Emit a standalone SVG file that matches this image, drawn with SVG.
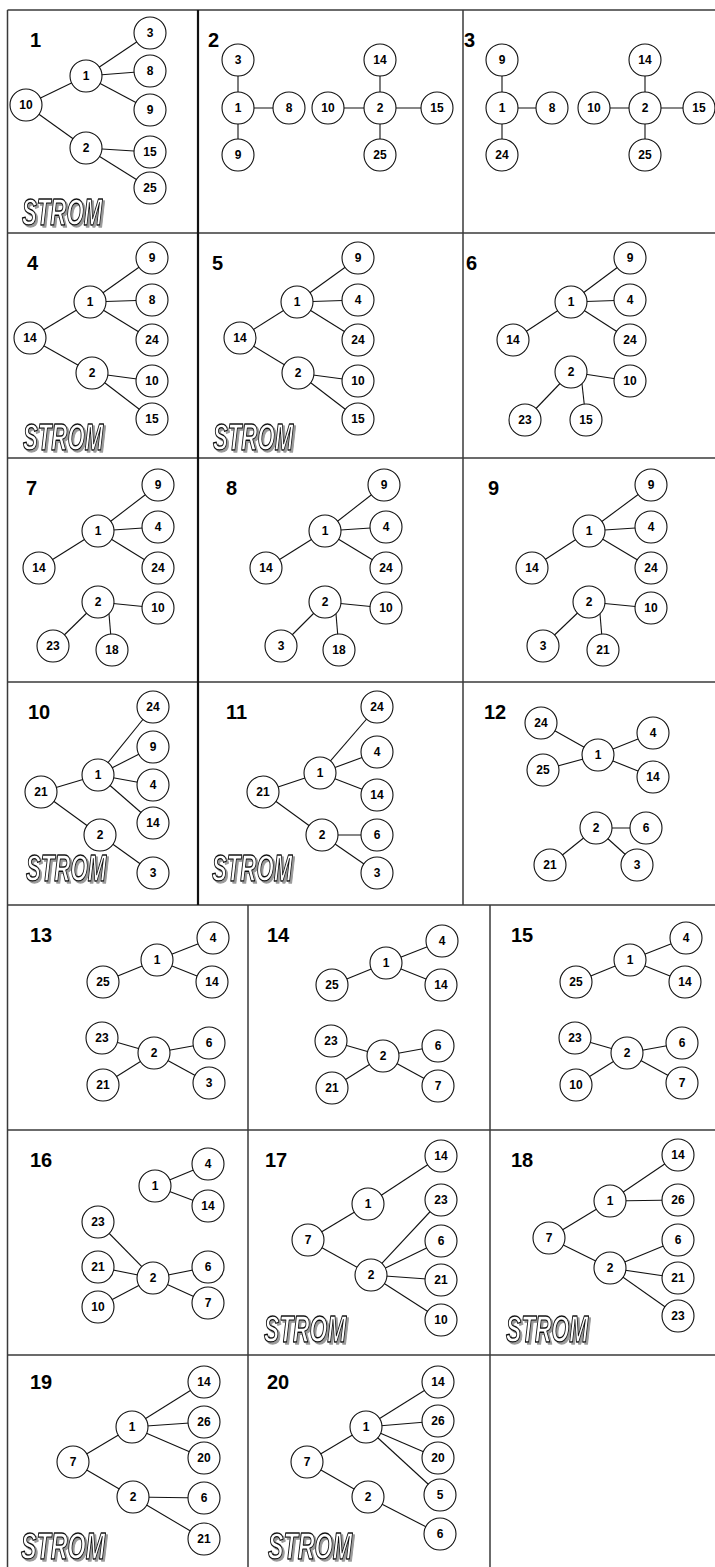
<svg xmlns="http://www.w3.org/2000/svg" width="715" height="1567" viewBox="0 0 715 1567">
<defs>
<filter id="shadow" x="-5%" y="-10%" width="115%" height="130%">
<feOffset in="SourceAlpha" dx="3" dy="2" result="o"/>
<feFlood flood-color="#9a9a9a"/>
<feComposite in2="o" operator="in" result="s"/>
<feMerge><feMergeNode in="s"/><feMergeNode in="SourceGraphic"/></feMerge>
</filter>
</defs>
<style>
.grid line{stroke:#3a3a3a;stroke-width:1.5}
.grid .thick{stroke:#111;stroke-width:2.2}
.edges line{stroke:#111;stroke-width:1.1}
.n circle{fill:#fff;stroke:#111;stroke-width:1.1}
.n text{font-family:"Liberation Sans",Arial,sans-serif;font-weight:bold;font-size:12px;text-anchor:middle;fill:#000}
.lbl{font-family:"Liberation Sans",Arial,sans-serif;font-weight:bold;font-size:20px;fill:#000}
.st text{font-family:"Liberation Sans",Arial,sans-serif;font-weight:bold;font-style:italic;font-size:37px;fill:#fff;stroke:#111;stroke-width:1.4;stroke-linejoin:round;filter:url(#shadow)}
</style>
<rect width="715" height="1567" fill="#fff"/>
<g class="grid">
<line x1="7.5" y1="10" x2="715" y2="10"/>
<line x1="7.5" y1="233" x2="715" y2="233"/>
<line x1="7.5" y1="458" x2="715" y2="458"/>
<line x1="7.5" y1="682" x2="715" y2="682"/>
<line x1="7.5" y1="905" x2="715" y2="905"/>
<line x1="7.5" y1="1130" x2="715" y2="1130"/>
<line x1="7.5" y1="1355" x2="715" y2="1355"/>
<line x1="7.5" y1="10" x2="7.5" y2="1567"/>
<line class="thick" x1="198" y1="10" x2="198" y2="905"/>
<line x1="463" y1="10" x2="463" y2="905"/>
<line x1="248" y1="905" x2="248" y2="1567"/>
<line x1="490" y1="905" x2="490" y2="1567"/>
</g>
<g id="labels">
<text class="lbl" x="30" y="47">1</text>
<text class="lbl" x="208" y="47">2</text>
<text class="lbl" x="464" y="47">3</text>
<text class="lbl" x="27" y="270">4</text>
<text class="lbl" x="212" y="270">5</text>
<text class="lbl" x="466" y="270">6</text>
<text class="lbl" x="26" y="495">7</text>
<text class="lbl" x="226" y="495">8</text>
<text class="lbl" x="488" y="495">9</text>
<text class="lbl" x="28" y="719">10</text>
<text class="lbl" x="226" y="719">11</text>
<text class="lbl" x="484" y="719">12</text>
<text class="lbl" x="30" y="942">13</text>
<text class="lbl" x="267" y="942">14</text>
<text class="lbl" x="511" y="942">15</text>
<text class="lbl" x="30" y="1167">16</text>
<text class="lbl" x="265" y="1167">17</text>
<text class="lbl" x="511" y="1167">18</text>
<text class="lbl" x="30" y="1389">19</text>
<text class="lbl" x="267" y="1389">20</text>
</g>
<g id="strom" class="st">
<g transform="translate(22,225) scale(0.6,1)"><text x="0" y="0">STROM</text></g>
<g transform="translate(23,450) scale(0.6,1)"><text x="0" y="0">STROM</text></g>
<g transform="translate(213,450) scale(0.6,1)"><text x="0" y="0">STROM</text></g>
<g transform="translate(26,881) scale(0.6,1)"><text x="0" y="0">STROM</text></g>
<g transform="translate(212,881) scale(0.6,1)"><text x="0" y="0">STROM</text></g>
<g transform="translate(264,1342) scale(0.615,1)"><text x="0" y="0">STROM</text></g>
<g transform="translate(506,1342) scale(0.615,1)"><text x="0" y="0">STROM</text></g>
<g transform="translate(21,1559) scale(0.63,1)"><text x="0" y="0">STROM</text></g>
<g transform="translate(268,1559) scale(0.63,1)"><text x="0" y="0">STROM</text></g>
</g>
<g id="connectors" class="edges">
<line x1="26" y1="105" x2="86" y2="76"/><line x1="26" y1="105" x2="86" y2="148"/><line x1="86" y1="76" x2="150" y2="33"/><line x1="86" y1="76" x2="150" y2="71"/><line x1="86" y1="76" x2="150" y2="110"/><line x1="86" y1="148" x2="150" y2="152"/><line x1="86" y1="148" x2="150" y2="188"/>
<line x1="238" y1="60" x2="238" y2="155"/><line x1="238" y1="108" x2="289" y2="108"/><line x1="328" y1="108" x2="437" y2="108"/><line x1="380" y1="60" x2="380" y2="155"/>
<line x1="502" y1="60" x2="502" y2="155"/><line x1="502" y1="108" x2="552" y2="108"/><line x1="594" y1="108" x2="699" y2="108"/><line x1="645" y1="60" x2="645" y2="155"/>
<line x1="30" y1="338" x2="90" y2="302"/><line x1="30" y1="338" x2="92" y2="373"/><line x1="90" y1="302" x2="152" y2="258"/><line x1="90" y1="302" x2="152" y2="300"/><line x1="90" y1="302" x2="152" y2="340"/><line x1="92" y1="373" x2="152" y2="381"/><line x1="92" y1="373" x2="152" y2="419"/>
<line x1="240" y1="338" x2="297" y2="302"/><line x1="240" y1="338" x2="298" y2="373"/><line x1="297" y1="302" x2="358" y2="258"/><line x1="297" y1="302" x2="358" y2="300"/><line x1="297" y1="302" x2="358" y2="340"/><line x1="298" y1="373" x2="358" y2="381"/><line x1="298" y1="373" x2="358" y2="419"/>
<line x1="513" y1="340" x2="571" y2="302"/><line x1="571" y1="302" x2="630" y2="258"/><line x1="571" y1="302" x2="630" y2="300"/><line x1="571" y1="302" x2="630" y2="340"/><line x1="571" y1="372" x2="630" y2="381"/><line x1="571" y1="372" x2="525" y2="420"/><line x1="582" y1="384" x2="586" y2="420"/>
<line x1="39" y1="568" x2="98" y2="531"/><line x1="98" y1="531" x2="158" y2="485"/><line x1="98" y1="531" x2="158" y2="527"/><line x1="98" y1="531" x2="158" y2="568"/><line x1="98" y1="602" x2="158" y2="608"/><line x1="98" y1="602" x2="53" y2="646"/><line x1="109" y1="614" x2="112" y2="650"/>
<line x1="266" y1="568" x2="325" y2="531"/><line x1="325" y1="531" x2="384" y2="485"/><line x1="325" y1="531" x2="386" y2="527"/><line x1="325" y1="531" x2="386" y2="568"/><line x1="325" y1="602" x2="386" y2="608"/><line x1="325" y1="602" x2="281" y2="646"/><line x1="336" y1="614" x2="339" y2="650"/>
<line x1="532" y1="568" x2="589" y2="531"/><line x1="589" y1="531" x2="651" y2="485"/><line x1="589" y1="531" x2="651" y2="527"/><line x1="589" y1="531" x2="651" y2="568"/><line x1="589" y1="602" x2="651" y2="608"/><line x1="589" y1="602" x2="543" y2="646"/><line x1="600" y1="614" x2="603" y2="650"/>
<line x1="41" y1="792" x2="98" y2="775"/><line x1="41" y1="792" x2="100" y2="835"/><line x1="98" y1="775" x2="153" y2="707"/><line x1="98" y1="775" x2="153" y2="747"/><line x1="98" y1="775" x2="153" y2="785"/><line x1="98" y1="775" x2="153" y2="823"/><line x1="100" y1="835" x2="153" y2="873"/>
<line x1="263" y1="792" x2="320" y2="773"/><line x1="263" y1="792" x2="322" y2="835"/><line x1="320" y1="773" x2="377" y2="707"/><line x1="320" y1="773" x2="377" y2="752"/><line x1="320" y1="773" x2="377" y2="795"/><line x1="322" y1="835" x2="377" y2="835"/><line x1="322" y1="835" x2="377" y2="873"/>
<line x1="541" y1="723" x2="598" y2="755"/><line x1="543" y1="770" x2="598" y2="755"/><line x1="598" y1="755" x2="653" y2="733"/><line x1="598" y1="755" x2="653" y2="777"/><line x1="596" y1="828" x2="646" y2="828"/><line x1="596" y1="828" x2="550" y2="865"/><line x1="596" y1="828" x2="637" y2="865"/>
<line x1="103" y1="982" x2="157" y2="960"/><line x1="157" y1="960" x2="213" y2="938"/><line x1="157" y1="960" x2="212" y2="982"/><line x1="102" y1="1038" x2="154" y2="1053"/><line x1="154" y1="1053" x2="209" y2="1043"/><line x1="103" y1="1085" x2="154" y2="1053"/><line x1="154" y1="1053" x2="209" y2="1083"/>
<line x1="332" y1="985" x2="386" y2="963"/><line x1="386" y1="963" x2="442" y2="941"/><line x1="386" y1="963" x2="441" y2="985"/><line x1="331" y1="1041" x2="383" y2="1056"/><line x1="383" y1="1056" x2="438" y2="1046"/><line x1="332" y1="1088" x2="383" y2="1056"/><line x1="383" y1="1056" x2="438" y2="1086"/>
<line x1="576" y1="982" x2="630" y2="960"/><line x1="630" y1="960" x2="686" y2="938"/><line x1="630" y1="960" x2="685" y2="982"/><line x1="575" y1="1038" x2="627" y2="1053"/><line x1="627" y1="1053" x2="682" y2="1043"/><line x1="576" y1="1085" x2="627" y2="1053"/><line x1="627" y1="1053" x2="682" y2="1083"/>
<line x1="155" y1="1186" x2="208" y2="1164"/><line x1="155" y1="1186" x2="208" y2="1206"/><line x1="98" y1="1222" x2="153" y2="1278"/><line x1="98" y1="1267" x2="153" y2="1278"/><line x1="153" y1="1278" x2="208" y2="1267"/><line x1="98" y1="1307" x2="153" y2="1278"/><line x1="153" y1="1278" x2="208" y2="1303"/>
<line x1="308" y1="1240" x2="368" y2="1204"/><line x1="308" y1="1240" x2="371" y2="1275"/><line x1="368" y1="1204" x2="441" y2="1156"/><line x1="371" y1="1275" x2="441" y2="1200"/><line x1="371" y1="1275" x2="441" y2="1241"/><line x1="371" y1="1275" x2="441" y2="1280"/><line x1="371" y1="1275" x2="441" y2="1320"/>
<line x1="549" y1="1238" x2="610" y2="1201"/><line x1="549" y1="1238" x2="610" y2="1268"/><line x1="610" y1="1201" x2="678" y2="1155"/><line x1="610" y1="1201" x2="678" y2="1200"/><line x1="610" y1="1268" x2="678" y2="1240"/><line x1="610" y1="1268" x2="678" y2="1278"/><line x1="610" y1="1268" x2="678" y2="1316"/>
<line x1="73" y1="1462" x2="132" y2="1427"/><line x1="73" y1="1462" x2="133" y2="1497"/><line x1="132" y1="1427" x2="204" y2="1382"/><line x1="132" y1="1427" x2="204" y2="1422"/><line x1="132" y1="1427" x2="204" y2="1458"/><line x1="133" y1="1497" x2="204" y2="1498"/><line x1="133" y1="1497" x2="204" y2="1539"/>
<line x1="307" y1="1462" x2="366" y2="1427"/><line x1="307" y1="1462" x2="368" y2="1497"/><line x1="366" y1="1427" x2="438" y2="1382"/><line x1="366" y1="1427" x2="438" y2="1421"/><line x1="366" y1="1427" x2="438" y2="1458"/><line x1="366" y1="1427" x2="440" y2="1495"/><line x1="368" y1="1497" x2="440" y2="1534"/>
</g>
<g id="nodes" class="n">
<g id="p1-3"><circle cx="150" cy="33" r="16"/><text x="150" y="37">3</text></g>
<g id="p1-1"><circle cx="86" cy="76" r="16"/><text x="86" y="80">1</text></g>
<g id="p1-8"><circle cx="150" cy="71" r="16"/><text x="150" y="75">8</text></g>
<g id="p1-10"><circle cx="26" cy="105" r="16"/><text x="26" y="109">10</text></g>
<g id="p1-9"><circle cx="150" cy="110" r="16"/><text x="150" y="114">9</text></g>
<g id="p1-2"><circle cx="86" cy="148" r="16"/><text x="86" y="152">2</text></g>
<g id="p1-15"><circle cx="150" cy="152" r="16"/><text x="150" y="156">15</text></g>
<g id="p1-25"><circle cx="150" cy="188" r="16"/><text x="150" y="192">25</text></g>
<g id="p2-3"><circle cx="238" cy="60" r="16"/><text x="238" y="64">3</text></g>
<g id="p2-1"><circle cx="238" cy="108" r="16"/><text x="238" y="112">1</text></g>
<g id="p2-9"><circle cx="238" cy="155" r="16"/><text x="238" y="159">9</text></g>
<g id="p2-8"><circle cx="289" cy="108" r="16"/><text x="289" y="112">8</text></g>
<g id="p2-10"><circle cx="328" cy="108" r="16"/><text x="328" y="112">10</text></g>
<g id="p2-2"><circle cx="380" cy="108" r="16"/><text x="380" y="112">2</text></g>
<g id="p2-14"><circle cx="380" cy="60" r="16"/><text x="380" y="64">14</text></g>
<g id="p2-25"><circle cx="380" cy="155" r="16"/><text x="380" y="159">25</text></g>
<g id="p2-15"><circle cx="437" cy="108" r="16"/><text x="437" y="112">15</text></g>
<g id="p3-9"><circle cx="502" cy="60" r="16"/><text x="502" y="64">9</text></g>
<g id="p3-1"><circle cx="502" cy="108" r="16"/><text x="502" y="112">1</text></g>
<g id="p3-24"><circle cx="502" cy="155" r="16"/><text x="502" y="159">24</text></g>
<g id="p3-8"><circle cx="552" cy="108" r="16"/><text x="552" y="112">8</text></g>
<g id="p3-10"><circle cx="594" cy="108" r="16"/><text x="594" y="112">10</text></g>
<g id="p3-2"><circle cx="645" cy="108" r="16"/><text x="645" y="112">2</text></g>
<g id="p3-14"><circle cx="645" cy="60" r="16"/><text x="645" y="64">14</text></g>
<g id="p3-25"><circle cx="645" cy="155" r="16"/><text x="645" y="159">25</text></g>
<g id="p3-15"><circle cx="699" cy="108" r="16"/><text x="699" y="112">15</text></g>
<g id="p4-9"><circle cx="152" cy="258" r="16"/><text x="152" y="262">9</text></g>
<g id="p4-1"><circle cx="90" cy="302" r="16"/><text x="90" y="306">1</text></g>
<g id="p4-8"><circle cx="152" cy="300" r="16"/><text x="152" y="304">8</text></g>
<g id="p4-14"><circle cx="30" cy="338" r="16"/><text x="30" y="342">14</text></g>
<g id="p4-24"><circle cx="152" cy="340" r="16"/><text x="152" y="344">24</text></g>
<g id="p4-2"><circle cx="92" cy="373" r="16"/><text x="92" y="377">2</text></g>
<g id="p4-10"><circle cx="152" cy="381" r="16"/><text x="152" y="385">10</text></g>
<g id="p4-15"><circle cx="152" cy="419" r="16"/><text x="152" y="423">15</text></g>
<g id="p5-9"><circle cx="358" cy="258" r="16"/><text x="358" y="262">9</text></g>
<g id="p5-1"><circle cx="297" cy="302" r="16"/><text x="297" y="306">1</text></g>
<g id="p5-4"><circle cx="358" cy="300" r="16"/><text x="358" y="304">4</text></g>
<g id="p5-14"><circle cx="240" cy="338" r="16"/><text x="240" y="342">14</text></g>
<g id="p5-24"><circle cx="358" cy="340" r="16"/><text x="358" y="344">24</text></g>
<g id="p5-2"><circle cx="298" cy="373" r="16"/><text x="298" y="377">2</text></g>
<g id="p5-10"><circle cx="358" cy="381" r="16"/><text x="358" y="385">10</text></g>
<g id="p5-15"><circle cx="358" cy="419" r="16"/><text x="358" y="423">15</text></g>
<g id="p6-9"><circle cx="630" cy="258" r="16"/><text x="630" y="262">9</text></g>
<g id="p6-1"><circle cx="571" cy="302" r="16"/><text x="571" y="306">1</text></g>
<g id="p6-4"><circle cx="630" cy="300" r="16"/><text x="630" y="304">4</text></g>
<g id="p6-14"><circle cx="513" cy="340" r="16"/><text x="513" y="344">14</text></g>
<g id="p6-24"><circle cx="630" cy="340" r="16"/><text x="630" y="344">24</text></g>
<g id="p6-2"><circle cx="571" cy="372" r="16"/><text x="571" y="376">2</text></g>
<g id="p6-10"><circle cx="630" cy="381" r="16"/><text x="630" y="385">10</text></g>
<g id="p6-23"><circle cx="525" cy="420" r="16"/><text x="525" y="424">23</text></g>
<g id="p6-15"><circle cx="586" cy="420" r="16"/><text x="586" y="424">15</text></g>
<g id="p7-9"><circle cx="158" cy="485" r="16"/><text x="158" y="489">9</text></g>
<g id="p7-1"><circle cx="98" cy="531" r="16"/><text x="98" y="535">1</text></g>
<g id="p7-4"><circle cx="158" cy="527" r="16"/><text x="158" y="531">4</text></g>
<g id="p7-14"><circle cx="39" cy="568" r="16"/><text x="39" y="572">14</text></g>
<g id="p7-24"><circle cx="158" cy="568" r="16"/><text x="158" y="572">24</text></g>
<g id="p7-2"><circle cx="98" cy="602" r="16"/><text x="98" y="606">2</text></g>
<g id="p7-10"><circle cx="158" cy="608" r="16"/><text x="158" y="612">10</text></g>
<g id="p7-23"><circle cx="53" cy="646" r="16"/><text x="53" y="650">23</text></g>
<g id="p7-18"><circle cx="112" cy="650" r="16"/><text x="112" y="654">18</text></g>
<g id="p8-9"><circle cx="384" cy="485" r="16"/><text x="384" y="489">9</text></g>
<g id="p8-1"><circle cx="325" cy="531" r="16"/><text x="325" y="535">1</text></g>
<g id="p8-4"><circle cx="386" cy="527" r="16"/><text x="386" y="531">4</text></g>
<g id="p8-14"><circle cx="266" cy="568" r="16"/><text x="266" y="572">14</text></g>
<g id="p8-24"><circle cx="386" cy="568" r="16"/><text x="386" y="572">24</text></g>
<g id="p8-2"><circle cx="325" cy="602" r="16"/><text x="325" y="606">2</text></g>
<g id="p8-10"><circle cx="386" cy="608" r="16"/><text x="386" y="612">10</text></g>
<g id="p8-3"><circle cx="281" cy="646" r="16"/><text x="281" y="650">3</text></g>
<g id="p8-18"><circle cx="339" cy="650" r="16"/><text x="339" y="654">18</text></g>
<g id="p9-9"><circle cx="651" cy="485" r="16"/><text x="651" y="489">9</text></g>
<g id="p9-1"><circle cx="589" cy="531" r="16"/><text x="589" y="535">1</text></g>
<g id="p9-4"><circle cx="651" cy="527" r="16"/><text x="651" y="531">4</text></g>
<g id="p9-14"><circle cx="532" cy="568" r="16"/><text x="532" y="572">14</text></g>
<g id="p9-24"><circle cx="651" cy="568" r="16"/><text x="651" y="572">24</text></g>
<g id="p9-2"><circle cx="589" cy="602" r="16"/><text x="589" y="606">2</text></g>
<g id="p9-10"><circle cx="651" cy="608" r="16"/><text x="651" y="612">10</text></g>
<g id="p9-3"><circle cx="543" cy="646" r="16"/><text x="543" y="650">3</text></g>
<g id="p9-21"><circle cx="603" cy="650" r="16"/><text x="603" y="654">21</text></g>
<g id="p10-24"><circle cx="153" cy="707" r="16"/><text x="153" y="711">24</text></g>
<g id="p10-9"><circle cx="153" cy="747" r="16"/><text x="153" y="751">9</text></g>
<g id="p10-1"><circle cx="98" cy="775" r="16"/><text x="98" y="779">1</text></g>
<g id="p10-4"><circle cx="153" cy="785" r="16"/><text x="153" y="789">4</text></g>
<g id="p10-21"><circle cx="41" cy="792" r="16"/><text x="41" y="796">21</text></g>
<g id="p10-14"><circle cx="153" cy="823" r="16"/><text x="153" y="827">14</text></g>
<g id="p10-2"><circle cx="100" cy="835" r="16"/><text x="100" y="839">2</text></g>
<g id="p10-3"><circle cx="153" cy="873" r="16"/><text x="153" y="877">3</text></g>
<g id="p11-24"><circle cx="377" cy="707" r="16"/><text x="377" y="711">24</text></g>
<g id="p11-4"><circle cx="377" cy="752" r="16"/><text x="377" y="756">4</text></g>
<g id="p11-1"><circle cx="320" cy="773" r="16"/><text x="320" y="777">1</text></g>
<g id="p11-21"><circle cx="263" cy="792" r="16"/><text x="263" y="796">21</text></g>
<g id="p11-14"><circle cx="377" cy="795" r="16"/><text x="377" y="799">14</text></g>
<g id="p11-2"><circle cx="322" cy="835" r="16"/><text x="322" y="839">2</text></g>
<g id="p11-6"><circle cx="377" cy="835" r="16"/><text x="377" y="839">6</text></g>
<g id="p11-3"><circle cx="377" cy="873" r="16"/><text x="377" y="877">3</text></g>
<g id="p12-24"><circle cx="541" cy="723" r="16"/><text x="541" y="727">24</text></g>
<g id="p12-4"><circle cx="653" cy="733" r="16"/><text x="653" y="737">4</text></g>
<g id="p12-1"><circle cx="598" cy="755" r="16"/><text x="598" y="759">1</text></g>
<g id="p12-25"><circle cx="543" cy="770" r="16"/><text x="543" y="774">25</text></g>
<g id="p12-14"><circle cx="653" cy="777" r="16"/><text x="653" y="781">14</text></g>
<g id="p12-2"><circle cx="596" cy="828" r="16"/><text x="596" y="832">2</text></g>
<g id="p12-6"><circle cx="646" cy="828" r="16"/><text x="646" y="832">6</text></g>
<g id="p12-21"><circle cx="550" cy="865" r="16"/><text x="550" y="869">21</text></g>
<g id="p12-3"><circle cx="637" cy="865" r="16"/><text x="637" y="869">3</text></g>
<g id="p13-4"><circle cx="213" cy="938" r="16"/><text x="213" y="942">4</text></g>
<g id="p13-1"><circle cx="157" cy="960" r="16"/><text x="157" y="964">1</text></g>
<g id="p13-25"><circle cx="103" cy="982" r="16"/><text x="103" y="986">25</text></g>
<g id="p13-14"><circle cx="212" cy="982" r="16"/><text x="212" y="986">14</text></g>
<g id="p13-23"><circle cx="102" cy="1038" r="16"/><text x="102" y="1042">23</text></g>
<g id="p13-2"><circle cx="154" cy="1053" r="16"/><text x="154" y="1057">2</text></g>
<g id="p13-6"><circle cx="209" cy="1043" r="16"/><text x="209" y="1047">6</text></g>
<g id="p13-21"><circle cx="103" cy="1085" r="16"/><text x="103" y="1089">21</text></g>
<g id="p13-3"><circle cx="209" cy="1083" r="16"/><text x="209" y="1087">3</text></g>
<g id="p14-4"><circle cx="442" cy="941" r="16"/><text x="442" y="945">4</text></g>
<g id="p14-1"><circle cx="386" cy="963" r="16"/><text x="386" y="967">1</text></g>
<g id="p14-25"><circle cx="332" cy="985" r="16"/><text x="332" y="989">25</text></g>
<g id="p14-14"><circle cx="441" cy="985" r="16"/><text x="441" y="989">14</text></g>
<g id="p14-23"><circle cx="331" cy="1041" r="16"/><text x="331" y="1045">23</text></g>
<g id="p14-2"><circle cx="383" cy="1056" r="16"/><text x="383" y="1060">2</text></g>
<g id="p14-6"><circle cx="438" cy="1046" r="16"/><text x="438" y="1050">6</text></g>
<g id="p14-21"><circle cx="332" cy="1088" r="16"/><text x="332" y="1092">21</text></g>
<g id="p14-7"><circle cx="438" cy="1086" r="16"/><text x="438" y="1090">7</text></g>
<g id="p15-4"><circle cx="686" cy="938" r="16"/><text x="686" y="942">4</text></g>
<g id="p15-1"><circle cx="630" cy="960" r="16"/><text x="630" y="964">1</text></g>
<g id="p15-25"><circle cx="576" cy="982" r="16"/><text x="576" y="986">25</text></g>
<g id="p15-14"><circle cx="685" cy="982" r="16"/><text x="685" y="986">14</text></g>
<g id="p15-23"><circle cx="575" cy="1038" r="16"/><text x="575" y="1042">23</text></g>
<g id="p15-2"><circle cx="627" cy="1053" r="16"/><text x="627" y="1057">2</text></g>
<g id="p15-6"><circle cx="682" cy="1043" r="16"/><text x="682" y="1047">6</text></g>
<g id="p15-10"><circle cx="576" cy="1085" r="16"/><text x="576" y="1089">10</text></g>
<g id="p15-7"><circle cx="682" cy="1083" r="16"/><text x="682" y="1087">7</text></g>
<g id="p16-4"><circle cx="208" cy="1164" r="16"/><text x="208" y="1168">4</text></g>
<g id="p16-1"><circle cx="155" cy="1186" r="16"/><text x="155" y="1190">1</text></g>
<g id="p16-14"><circle cx="208" cy="1206" r="16"/><text x="208" y="1210">14</text></g>
<g id="p16-23"><circle cx="98" cy="1222" r="16"/><text x="98" y="1226">23</text></g>
<g id="p16-21"><circle cx="98" cy="1267" r="16"/><text x="98" y="1271">21</text></g>
<g id="p16-2"><circle cx="153" cy="1278" r="16"/><text x="153" y="1282">2</text></g>
<g id="p16-6"><circle cx="208" cy="1267" r="16"/><text x="208" y="1271">6</text></g>
<g id="p16-10"><circle cx="98" cy="1307" r="16"/><text x="98" y="1311">10</text></g>
<g id="p16-7"><circle cx="208" cy="1303" r="16"/><text x="208" y="1307">7</text></g>
<g id="p17-14"><circle cx="441" cy="1156" r="16"/><text x="441" y="1160">14</text></g>
<g id="p17-1"><circle cx="368" cy="1204" r="16"/><text x="368" y="1208">1</text></g>
<g id="p17-23"><circle cx="441" cy="1200" r="16"/><text x="441" y="1204">23</text></g>
<g id="p17-7"><circle cx="308" cy="1240" r="16"/><text x="308" y="1244">7</text></g>
<g id="p17-6"><circle cx="441" cy="1241" r="16"/><text x="441" y="1245">6</text></g>
<g id="p17-2"><circle cx="371" cy="1275" r="16"/><text x="371" y="1279">2</text></g>
<g id="p17-21"><circle cx="441" cy="1280" r="16"/><text x="441" y="1284">21</text></g>
<g id="p17-10"><circle cx="441" cy="1320" r="16"/><text x="441" y="1324">10</text></g>
<g id="p18-14"><circle cx="678" cy="1155" r="16"/><text x="678" y="1159">14</text></g>
<g id="p18-1"><circle cx="610" cy="1201" r="16"/><text x="610" y="1205">1</text></g>
<g id="p18-26"><circle cx="678" cy="1200" r="16"/><text x="678" y="1204">26</text></g>
<g id="p18-7"><circle cx="549" cy="1238" r="16"/><text x="549" y="1242">7</text></g>
<g id="p18-6"><circle cx="678" cy="1240" r="16"/><text x="678" y="1244">6</text></g>
<g id="p18-2"><circle cx="610" cy="1268" r="16"/><text x="610" y="1272">2</text></g>
<g id="p18-21"><circle cx="678" cy="1278" r="16"/><text x="678" y="1282">21</text></g>
<g id="p18-23"><circle cx="678" cy="1316" r="16"/><text x="678" y="1320">23</text></g>
<g id="p19-14"><circle cx="204" cy="1382" r="16"/><text x="204" y="1386">14</text></g>
<g id="p19-1"><circle cx="132" cy="1427" r="16"/><text x="132" y="1431">1</text></g>
<g id="p19-26"><circle cx="204" cy="1422" r="16"/><text x="204" y="1426">26</text></g>
<g id="p19-20"><circle cx="204" cy="1458" r="16"/><text x="204" y="1462">20</text></g>
<g id="p19-7"><circle cx="73" cy="1462" r="16"/><text x="73" y="1466">7</text></g>
<g id="p19-2"><circle cx="133" cy="1497" r="16"/><text x="133" y="1501">2</text></g>
<g id="p19-6"><circle cx="204" cy="1498" r="16"/><text x="204" y="1502">6</text></g>
<g id="p19-21"><circle cx="204" cy="1539" r="16"/><text x="204" y="1543">21</text></g>
<g id="p20-14"><circle cx="438" cy="1382" r="16"/><text x="438" y="1386">14</text></g>
<g id="p20-1"><circle cx="366" cy="1427" r="16"/><text x="366" y="1431">1</text></g>
<g id="p20-26"><circle cx="438" cy="1421" r="16"/><text x="438" y="1425">26</text></g>
<g id="p20-20"><circle cx="438" cy="1458" r="16"/><text x="438" y="1462">20</text></g>
<g id="p20-7"><circle cx="307" cy="1462" r="16"/><text x="307" y="1466">7</text></g>
<g id="p20-5"><circle cx="440" cy="1495" r="16"/><text x="440" y="1499">5</text></g>
<g id="p20-2"><circle cx="368" cy="1497" r="16"/><text x="368" y="1501">2</text></g>
<g id="p20-6"><circle cx="440" cy="1534" r="16"/><text x="440" y="1538">6</text></g>
</g>
</svg>
